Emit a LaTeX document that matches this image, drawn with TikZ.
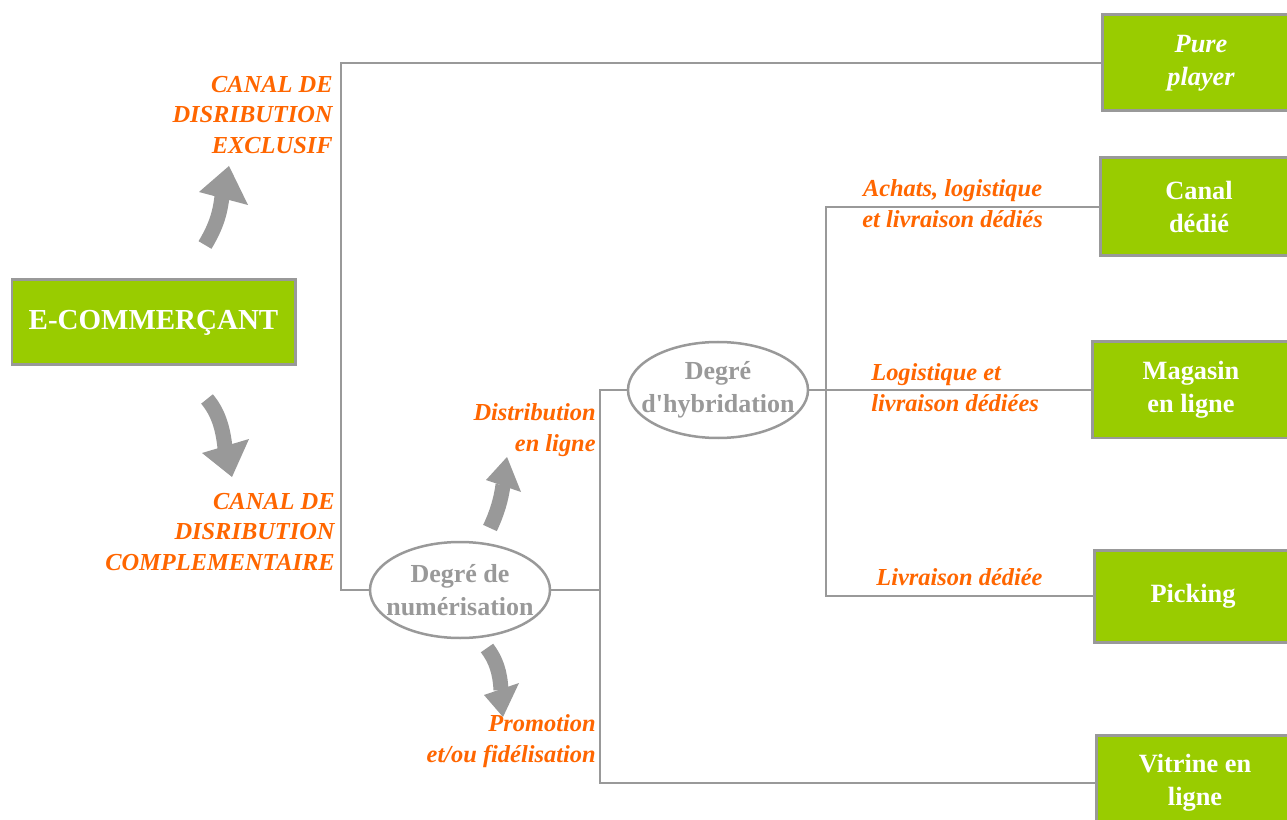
\documentclass[tikz,border=0pt]{standalone}
\usepackage{fontspec}
\setmainfont{Liberation Serif}
\usetikzlibrary{shapes.geometric}
\definecolor{boxgreen}{HTML}{99CC00}
\definecolor{labor}{HTML}{FF6600}
\definecolor{lgray}{HTML}{999999}
\tikzset{
  greenbox/.style={draw=lgray, line width=0.06cm, fill=boxgreen, text=white,
    font=\bfseries\fontsize{15}{19}\selectfont, align=center,
    minimum width={198*0.02cm}, minimum height={96*0.02cm}, inner sep=0pt},
  degree/.style={ellipse, draw=lgray, line width=0.05cm, fill=white, text=lgray,
    font=\bfseries\fontsize{14.8}{19}\selectfont, align=center,
    minimum width={180*0.02cm}, minimum height={96*0.02cm}, inner xsep={-14*0.02cm}, inner ysep=0pt},
  branchlabel/.style={text=labor, font=\bfseries\itshape\fontsize{13.9}{17.6}\selectfont, inner sep=0pt},
  conn/.style={draw=lgray, line width=0.05cm},
  shaft/.style={draw=lgray, line width={15*0.02cm}},
  head/.style={fill=lgray}
}
\begin{document}
\begin{tikzpicture}[x=0.02cm, y=-0.02cm]
\clip (0,0) rectangle (1287,820);
\fill[white] (0,0) rectangle (1287,820);

% boxes
\node[greenbox, minimum width={283*0.02cm}, minimum height={85*0.02cm}, font=\bfseries\fontsize{16.5}{20}\selectfont] (ecom) at (153.5,322.5) {E-COMMERÇANT};
\node[greenbox, font=\bfseries\itshape\fontsize{15}{19}\selectfont] (pure) at (1201,63) {Pure\\player};
\node[greenbox, minimum height={98*0.02cm}] (canal) at (1199,207) {Canal\\dédié};
\node[greenbox] (mag) at (1191,390) {Magasin\\en ligne};
\node[greenbox, minimum height={92*0.02cm}] (pick) at (1193,596) {Picking};
\node[greenbox] (vit) at (1195,783) {Vitrine en\\ligne};

% ellipses
\node[degree] (num) at (460,590) {Degré de\\numérisation};
\node[degree] (hyb) at (718,390) {Degré\\d\textquotesingle hybridation};

% junction coordinates
\coordinate (j1) at (341,590);
\coordinate (j2) at (600,590);
\coordinate (j3) at (600,783);
\coordinate (j4) at (826,390);

% connectors
\draw[conn] (pure.west) -| (j1) -- (num.west);
\draw[conn] (num.east) -- (j2);
\draw[conn] (hyb.west) -| (j3) -- (vit.west);
\draw[conn] (hyb.east) -- (mag.west);
\draw[conn] (canal.west) -| (j4) |- (pick.west);

% labels
\node[branchlabel, anchor=east, align=right] (l1) at (333,115) {CANAL DE\\DISRIBUTION\\EXCLUSIF};
\node[branchlabel, anchor=east, align=right] (l2) at (335,532) {CANAL DE\\DISRIBUTION\\COMPLEMENTAIRE};
\node[branchlabel, anchor=east, align=right] (l3) at (596,430) {Distribution\\en ligne};
\node[branchlabel, anchor=east, align=right] (l4) at (596,741) {Promotion\\et/ou fidélisation};
\node[branchlabel, anchor=west, align=center] (l5) at (862,204) {Achats, logistique\\et livraison dédiés};
\node[branchlabel, anchor=west, align=left] (l6) at (871,388) {Logistique et\\livraison dédiées};
\node[branchlabel, anchor=west] (l7) at (876,577) {Livraison dédiée};

% curved arrows
\draw[shaft] (205,245) .. controls (214,230) and (220,216) .. (222,196);
\fill[head] (199,192) -- (229,166) -- (248,205) -- cycle;
\draw[shaft] (207,399) .. controls (218,412) and (223,428) .. (225,448);
\fill[head] (202,453) -- (232,477) -- (249,439) -- cycle;
\draw[shaft] (490,528) .. controls (497,513) and (501,500) .. (503,485);
\fill[head] (486,480) -- (507,457) -- (521,492) -- cycle;
\draw[shaft] (487,648) .. controls (496,660) and (500,672) .. (501,690);
\fill[head] (484,695) -- (503,717) -- (519,683) -- cycle;
\end{tikzpicture}
\end{document}
